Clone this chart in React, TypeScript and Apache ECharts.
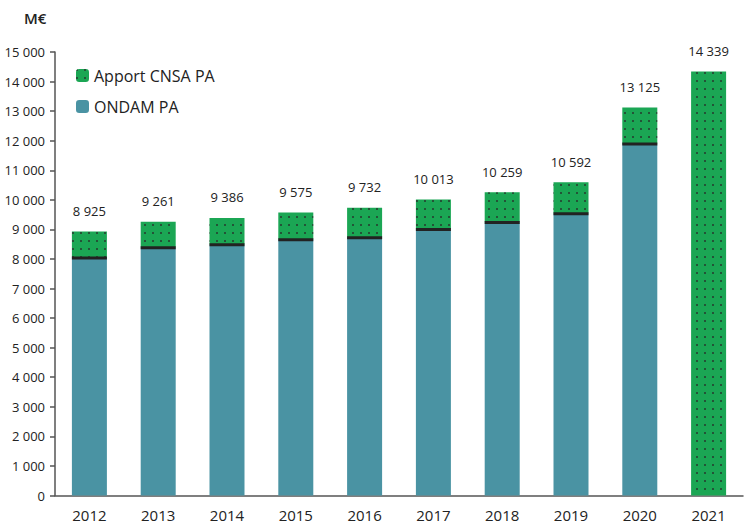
import React, { useEffect, useRef } from "react";
import * as echarts from "echarts";

const years = ["2012", "2013", "2014", "2015", "2016", "2017", "2018", "2019", "2020", "2021"];
const totals = [8925, 9261, 9386, 9575, 9732, 10013, 10259, 10592, 13125, 14339];
const ondamPA = [8030, 8380, 8480, 8650, 8720, 9000, 9230, 9530, 11890, 0];
const apportCNSA = totals.map((t, i) => t - ondamPA[i]);

const FONT = "'Open Sans', 'DejaVu Sans', sans-serif";
const TEAL = "#4a93a3";
const GREEN = "#1ba654";

const fmt = (v: number) => String(v).replace(/\B(?=(\d{3})+(?!\d))/g, " ");

export default function App() {
  const ref = useRef<HTMLDivElement>(null);
  useEffect(() => {
    if (!ref.current) return;
    const chart = echarts.init(ref.current, undefined, { renderer: "svg" });
    const barWidth = 35;
    chart.setOption({
      animation: false,
      textStyle: { fontFamily: FONT },
      graphic: [
        {
          type: "text",
          left: 24,
          top: 10,
          style: { text: "M€", fontSize: 15, fontWeight: 600, fill: "#222", fontFamily: FONT },
        },
      ],
      legend: {
        orient: "vertical",
        left: 71,
        top: 62,
        itemWidth: 13,
        itemHeight: 13,
        itemGap: 14,
        data: ["Apport CNSA PA", "ONDAM PA"],
        textStyle: { fontSize: 16, color: "#222", fontFamily: FONT, lineHeight: 17 },
      },
      grid: { left: 55, right: 2, top: 52, bottom: 28.5, containLabel: false },
      xAxis: {
        type: "category",
        data: years,
        axisLine: { lineStyle: { color: "#555", width: 1.5 } },
        axisTick: { show: false },
        axisLabel: { fontSize: 15, color: "#222", margin: 12, fontFamily: FONT },
      },
      yAxis: {
        type: "value",
        min: 0,
        max: 15000,
        interval: 1000,
        axisLine: { show: true, lineStyle: { color: "#555", width: 1.5 } },
        axisTick: { show: true, length: 5, lineStyle: { color: "#555", width: 1.5 } },
        splitLine: { show: false },
        axisLabel: { fontSize: 13, color: "#222", margin: 10, formatter: fmt, fontFamily: FONT },
      },
      series: [
        {
          name: "ONDAM PA",
          type: "bar",
          stack: "t",
          barWidth,
          data: ondamPA,
          itemStyle: { color: TEAL },
        },
        {
          name: "Apport CNSA PA",
          type: "bar",
          stack: "t",
          barWidth,
          data: apportCNSA,
          itemStyle: {
            color: GREEN,
            decal: {
              symbol: "rect",
              symbolSize: 1,
              color: "rgba(40,40,40,0.65)",
              dashArrayX: [2, 5.3],
              dashArrayY: [2, 5.7],
            },
          },
          label: {
            show: true,
            position: "top",
            distance: 14,
            fontSize: 13,
            color: "#222",
            fontFamily: FONT,
            formatter: (p: any) => fmt(totals[p.dataIndex]),
          },
        },
        {
          name: "sep",
          type: "custom",
          data: ondamPA.map((v, i) => [i, v]),
          z: 10,
          renderItem: (params: any, api: any) => {
            const v = api.value(1);
            if (!v) return null;
            const pt = api.coord([api.value(0), v]);
            return {
              type: "rect",
              shape: { x: pt[0] - barWidth / 2, y: pt[1] - 1.5, width: barWidth, height: 3 },
              style: { fill: "#222" },
            };
          },
        },
      ],
    });
    return () => chart.dispose();
  }, []);
  return <div ref={ref} style={{ width: 745, height: 524, position: "absolute", left: 0, top: 0 }} />;
}
